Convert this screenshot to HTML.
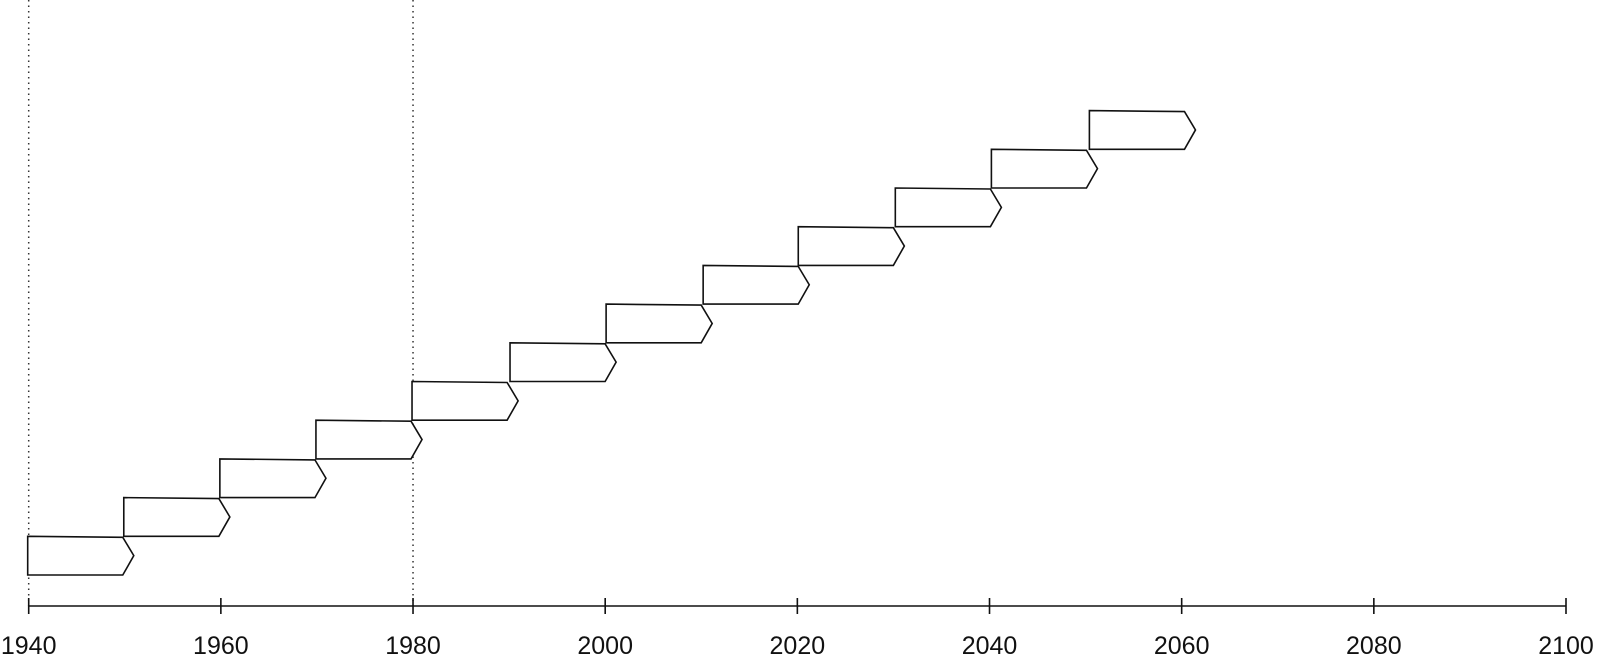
<!DOCTYPE html>
<html><head><meta charset="utf-8"><style>
html,body{margin:0;padding:0;background:#fff;}
svg{display:block;}
text{font-family:"Liberation Sans",sans-serif;font-size:25px;fill:#111;}
</style></head><body>
<svg id="chart" width="1597" height="659" viewBox="0 0 1597 659" xmlns="http://www.w3.org/2000/svg"></svg>
<script>
const startYears = [1940,1950,1960,1970,1980,1990.2,2000.2,2010.3,2020.2,2030.3,2040.3,2050.5];
const durations = [10,10,10,10,10,10,10,10,10,10,10,10];
const tickLabels = [1940,1960,1980,2000,2020,2040,2060,2080,2100];
const markerYears = [1940,1980];

const NS = "http://www.w3.org/2000/svg";
const svg = document.getElementById('chart');
const x0 = 28.7, x1 = 1566, yMin = 1940, yMax = 2100;
function x(v){ return x0 + (v - yMin) * (x1 - x0) / (yMax - yMin); }
const axisY = 606, rowH = 38.7, baseBottom = 575;
function rowTop(i){ return baseBottom - rowH * (i + 1); }

function mk(tag, attrs){ const e = document.createElementNS(NS, tag); for (const k in attrs) e.setAttribute(k, attrs[k]); svg.appendChild(e); return e; }

markerYears.forEach(function(yr){
  const l = mk('line', {x1:x(yr), x2:x(yr), y1:0, y2:axisY, stroke:'#333', 'stroke-width':1.5, 'stroke-dasharray':'1.5,4'});
  
  
});

startYears.forEach(function(s, i){
  const top = rowTop(i), bot = top + rowH;
  const xs = x(s) - 1, xe = x(s + durations[i]) - 2, tip = xe + 11;
  const p = mk('path', {d:`M${xs},${bot} L${xs},${top} L${xe},${top+1} L${tip},${(top+bot)/2} L${xe},${bot} Z`, fill:'#fff', stroke:'#111', 'stroke-width':1.6, 'stroke-linejoin':'miter'});
  
  
});

const ax = mk('line', {x1:x0, x2:x1, y1:axisY, y2:axisY, stroke:'#111', 'stroke-width':1.6});



tickLabels.forEach(function(t){
  const tk = mk('line', {x1:x(t), x2:x(t), y1:axisY-8, y2:axisY+8, stroke:'#111', 'stroke-width':1.6});
  
  
  const tx = mk('text', {x:x(t), y:654, 'text-anchor':'middle'});
  tx.textContent = t;
  
  
});
</script>
</body></html>
